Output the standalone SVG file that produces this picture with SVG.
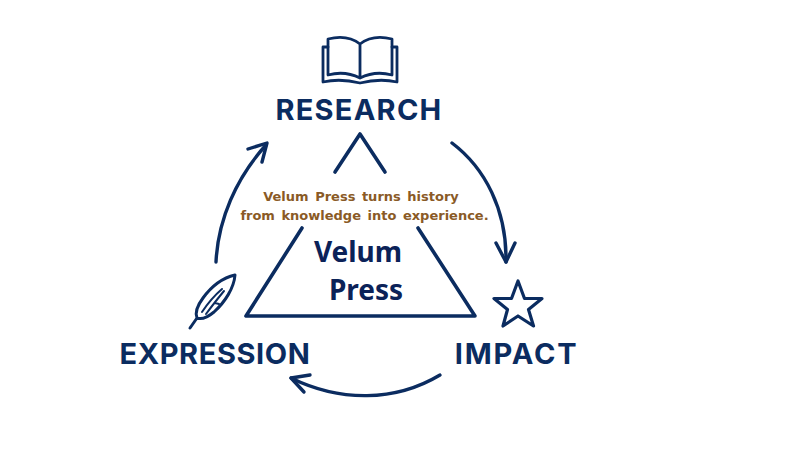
<svg xmlns="http://www.w3.org/2000/svg" width="800" height="450" viewBox="0 0 800 450">
<style>
.s{fill:none;stroke:#0b2c60;stroke-linecap:round;stroke-linejoin:round}
.l{font-family:"Inter","Liberation Sans",sans-serif;font-weight:700;font-size:29px;fill:#0b2c60;text-anchor:middle}
.c{font-family:"DejaVu Sans",sans-serif;font-weight:700;font-size:13px;fill:#8a5a26;text-anchor:middle;word-spacing:2px}
.t{font-family:"Noto Sans",sans-serif;font-weight:700;font-size:28px;fill:#0b2258;text-anchor:middle}
</style>
<rect width="800" height="450" fill="#fff"/>
<g id="research">
<path class="s" stroke-width="2.800" d="M360 78C350 73 339 72 328 75V39C340 36 351 37 360 44C369 37 380 36 392 39V75C381 72 370 73 360 78V44"/>
<path class="s" stroke-width="2.800" d="M328 47H323V82C336 79 348 80 360 83C372 80 384 79 397 82V47H392"/>
<text class="l" x="359" y="119.500" letter-spacing="1.250">RESEARCH</text>
</g>
<g id="impact">
<path class="s" stroke-width="3.200" d="M518 281L524.500 298.500H542L528.500 309.500L533.500 326L518 316L503 326L507.500 309.500L494 298.500H511.500Z"/>
<text class="l" x="516.500" y="363.500" letter-spacing="1.800">IMPACT</text>
</g>
<g id="expression">
<path class="s" stroke-width="3" d="M190 328L197 318C202 320 208 317 214 312C225 302 234 288 235 275C222 278 211 287 203 298C197 306 195 313 197 318"/>
<path class="s" stroke-width="2" d="M202 312C208 303 215 295 222 289M206 314C212 306 219 297 224 291M215 303L219 304"/>
<text class="l" x="215" y="363.500" letter-spacing="0.600">EXPRESSION</text>
</g>
<g id="center">
<path class="s" stroke-width="3.600" d="M335 172L360 134L385 172"/>
<path class="s" stroke-width="3.600" d="M302 228L246 316H475L418 228"/>
<text class="c" x="361" y="200.500">Velum Press turns history</text>
<text class="c" x="364.500" y="219.500">from knowledge into experience.</text>
<text class="t" x="358" y="262">Velum</text>
<text class="t" x="366" y="300">Press</text>
</g>
<g id="connectors" class="s" stroke-width="3.400">
<path d="M216 262C218 220 236 178 266 145"/>
<path d="M248 149L267 143L262 162"/>
<path d="M452 143C485 168 507 210 506 262"/>
<path d="M496 243L506 262L515 243"/>
<path d="M440 375C395 402 340 402 291 378"/>
<path d="M304 392L291 378L310 375"/>
</g>
</svg>
